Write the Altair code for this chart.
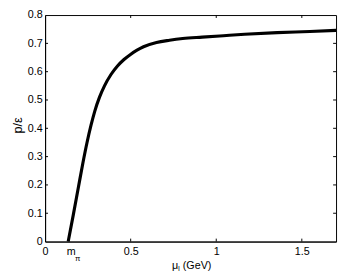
import altair as alt
import pandas as pd

# curve values
mu = [0.135, 0.165, 0.194, 0.220, 0.245, 0.268, 0.290, 0.318, 0.347, 0.385, 0.423,
      0.461, 0.499, 0.537, 0.575, 0.651, 0.727, 0.804, 0.918, 1.042, 1.166, 1.356,
      1.547, 1.70]
p_eps = [0.0, 0.095, 0.190, 0.275, 0.350, 0.410, 0.460, 0.510, 0.550, 0.590, 0.620,
         0.643, 0.661, 0.676, 0.688, 0.703, 0.711, 0.717, 0.722, 0.727, 0.732, 0.738,
         0.742, 0.746]

x_ticks = [0, 0.5, 1, 1.5]
y_ticks = [0, 0.1, 0.2, 0.3, 0.4, 0.5, 0.6, 0.7, 0.8]
m_pi = 0.135

W, H = 298, 232
FONT = "Liberation Sans"

df = pd.DataFrame({"mu": mu, "p": p_eps})
xs = alt.Scale(domain=[0, 1.7], nice=False, zero=False)
ys = alt.Scale(domain=[0, 0.8], nice=False, zero=False)

x_axis = alt.Axis(values=x_ticks, tickSize=0, labelPadding=4, labelFontSize=11,
                  labelFont=FONT, labelColor="black", domainColor="black",
                  grid=False, title=None, labelOverlap=False, labelFlush=False,
                  labelExpr="datum.value == 0 ? '0' : format(datum.value, '.1~f')")
y_axis = alt.Axis(values=y_ticks, tickSize=0, labelPadding=3, labelFontSize=11,
                  labelFont=FONT, labelColor="black", domainColor="black",
                  grid=False, title=None, labelOverlap=False, labelFlush=False,
                  labelExpr="datum.value == 0 ? '0' : format(datum.value, '.1f')")

line = alt.Chart(df).mark_line(color="black", strokeWidth=3.2, interpolate="monotone").encode(
    x=alt.X("mu:Q", scale=xs, axis=x_axis),
    y=alt.Y("p:Q", scale=ys, axis=y_axis),
)

xt = pd.DataFrame({"v": x_ticks[1:]})
yt = pd.DataFrame({"v": y_ticks[1:-1]})
tick_b = alt.Chart(xt).mark_rule(color="black").encode(
    x=alt.X("v:Q", scale=xs, axis=x_axis), y=alt.value(H), y2=alt.value(H - 3))
tick_t = alt.Chart(xt).mark_rule(color="black").encode(
    x=alt.X("v:Q", scale=xs, axis=x_axis), y=alt.value(0), y2=alt.value(3))
tick_l = alt.Chart(yt).mark_rule(color="black").encode(
    y=alt.Y("v:Q", scale=ys, axis=y_axis), x=alt.value(0), x2=alt.value(3))
tick_r = alt.Chart(yt).mark_rule(color="black").encode(
    y=alt.Y("v:Q", scale=ys, axis=y_axis), x=alt.value(W), x2=alt.value(W - 3))

mpi_df = pd.DataFrame({"x": [m_pi]})
m_txt = alt.Chart(mpi_df).mark_text(text="m", fontSize=11, font=FONT, baseline="middle",
                                    align="center", dx=3).encode(
    x=alt.X("x:Q", scale=xs, axis=x_axis), y=alt.value(H + 11))
pi_txt = alt.Chart(mpi_df).mark_text(text="π", fontSize=8, font=FONT, baseline="middle",
                                     align="left", dx=7).encode(
    x=alt.X("x:Q", scale=xs, axis=x_axis), y=alt.value(H + 18))

xtitle_mu = alt.Chart(mpi_df).mark_text(text="μ", fontSize=11, font=FONT, baseline="middle",
                                        align="left").encode(
    x=alt.value(130), y=alt.value(H + 25))
xtitle_i = alt.Chart(mpi_df).mark_text(text="I", fontSize=7, font=FONT, baseline="middle",
                                       align="left").encode(
    x=alt.value(136), y=alt.value(H + 28))
xtitle_gev = alt.Chart(mpi_df).mark_text(text="(GeV)", fontSize=11, font=FONT, baseline="middle",
                                         align="left").encode(
    x=alt.value(141), y=alt.value(H + 25))
ytitle = alt.Chart(mpi_df).mark_text(text="p/ε", fontSize=13, font=FONT, baseline="middle",
                                     align="center", angle=270).encode(
    x=alt.value(-28), y=alt.value(113))

chart = alt.layer(line, tick_b, tick_t, tick_l, tick_r, m_txt, pi_txt,
                  xtitle_mu, xtitle_i, xtitle_gev, ytitle).properties(
    width=W, height=H,
    autosize=alt.AutoSizeParams(type="none"),
    padding={"left": 38, "top": 4, "right": 2, "bottom": 30},
    background="white",
).configure_view(stroke="black", strokeWidth=1)

chart.save("out.html", embed_options={"renderer": "svg", "actions": False})
